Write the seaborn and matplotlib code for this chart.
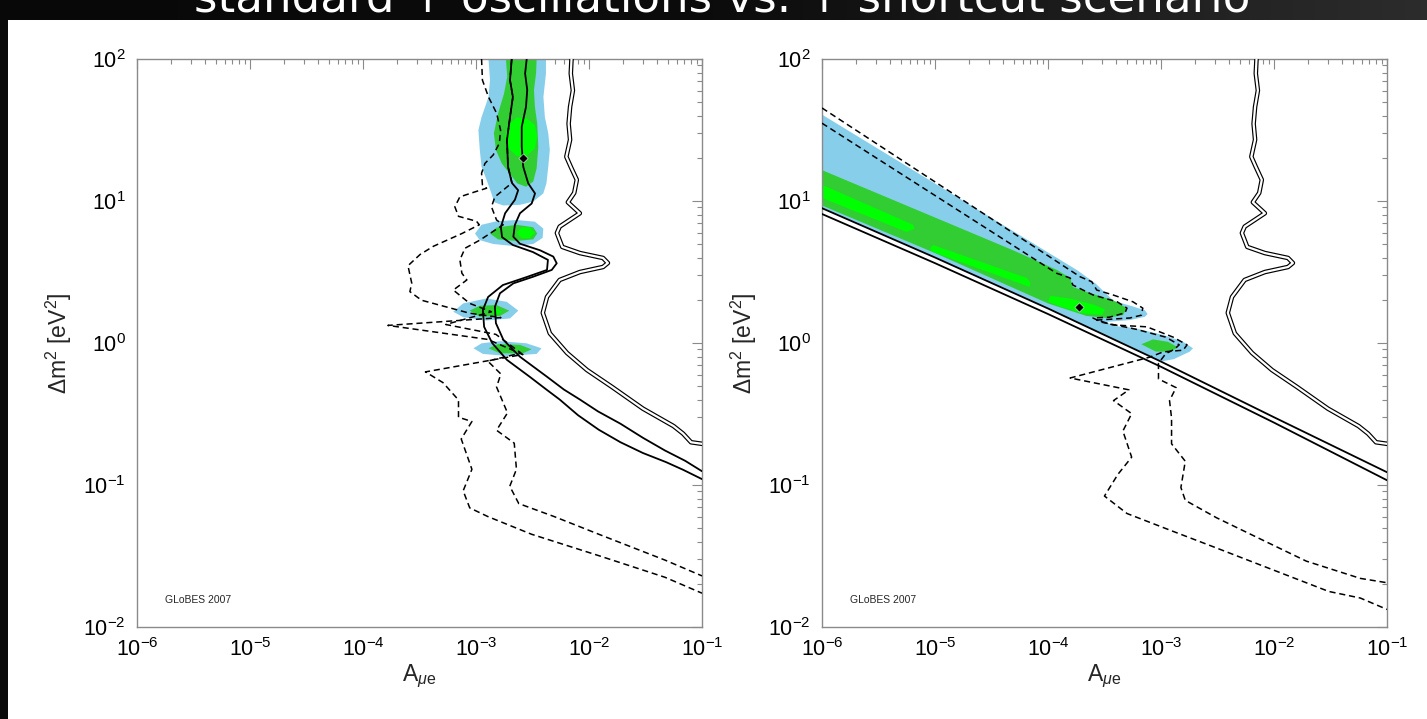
import numpy as np
import matplotlib
matplotlib.use("Agg")
import matplotlib.pyplot as plt
import matplotlib.ticker as mticker
from matplotlib.colors import LinearSegmentedColormap
from matplotlib.patches import Rectangle
import seaborn as sns

# ---------------- data (A_mue, dm^2 in eV^2) ----------------
# outermost double contour, identical in both panels
outer_A = [7.0e-3, 6.9e-3, 7.2e-3, 6.8e-3, 6.6e-3, 6.8e-3, 6.3e-3, 6.9e-3, 7.8e-3, 7.4e-3,
           6.5e-3, 8.3e-3, 5.5e-3, 5.2e-3, 5.8e-3, 8.3e-3, 1.33e-2, 1.47e-2, 1.33e-2, 8.3e-3,
           5.5e-3, 4.25e-3, 3.9e-3, 4.5e-3, 6.4e-3, 9.6e-3, 1.6e-2, 3.0e-2, 5.6e-2, 6.8e-2, 8.0e-2, 0.1]
outer_dm = [100, 79, 60, 46, 35, 27, 20.5, 17.4, 14.1, 11.4,
            9.8, 8.2, 6.6, 5.95, 4.75, 4.3, 3.97, 3.66, 3.43, 3.16,
            2.78, 2.11, 1.63, 1.17, 0.85, 0.645, 0.49, 0.345, 0.26, 0.23, 0.20, 0.195]

# left panel: middle solid pair
left_s1_A = [2.07e-3, 2.0e-3, 2.12e-3, 2.0e-3, 1.88e-3, 1.92e-3, 2.08e-3, 2.36e-3, 2.21e-3, 1.81e-3,
             1.66e-3, 1.70e-3, 2.12e-3, 3.19e-3, 4.33e-3, 4.25e-3, 2.83e-3, 1.73e-3, 1.28e-3, 1.15e-3,
             1.18e-3, 1.39e-3, 1.88e-3, 3.0e-3, 4.2e-3, 5.5e-3, 8.0e-3, 1.22e-2, 1.9e-2, 3.0e-2,
             4.8e-2, 6.8e-2, 0.1]
left_s1_dm = [100, 71, 54, 39, 26.9, 17.4, 13.4, 11.9, 10.2, 8.2,
              6.56, 5.57, 4.9, 4.37, 3.85, 3.27, 2.92, 2.56, 2.11, 1.71,
              1.30, 1.0, 0.76, 0.577, 0.47, 0.40, 0.31, 0.245, 0.20, 0.168,
              0.145, 0.128, 0.110]
left_s2_A = [2.81e-3, 2.72e-3, 2.84e-3, 2.77e-3, 2.54e-3, 2.54e-3, 2.62e-3, 2.90e-3, 3.33e-3, 3.11e-3,
             2.45e-3, 2.21e-3, 2.14e-3, 2.45e-3, 3.68e-3, 4.83e-3, 5.18e-3, 4.68e-3, 3.21e-3, 2.14e-3,
             1.63e-3, 1.47e-3, 1.50e-3, 1.75e-3, 2.45e-3, 4.23e-3, 6.0e-3, 8.3e-3, 1.2e-2, 1.9e-2,
             3.0e-2, 4.7e-2, 7.1e-2, 0.1]
left_s2_dm = [100, 79, 60.5, 46.1, 33.3, 24.1, 17.4, 13.3, 11.3, 9.6,
              8.2, 6.8, 5.6, 5.0, 4.5, 4.06, 3.64, 3.27, 2.93, 2.63,
              2.24, 1.80, 1.38, 1.05, 0.80, 0.58, 0.47, 0.40, 0.33, 0.27,
              0.215, 0.175, 0.148, 0.125]

# left panel: dashed contours
left_d1_A = [1.12e-3, 1.14e-3, 1.29e-3, 1.52e-3, 1.65e-3, 1.61e-3, 1.42e-3, 1.2e-3, 1.12e-3, 1.14e-3,
             1.24e-3, 9.8e-4, 7.2e-4, 6.5e-4, 7.0e-4, 1.01e-3, 1.07e-3, 7.5e-4, 4.2e-4, 3.2e-4,
             2.5e-4, 2.7e-4, 2.6e-4, 3.3e-4, 8.8e-4, 1.66e-3, 1.66e-4, 1.27e-3, 2.6e-3, 3.57e-4,
             5.1e-4, 7.0e-4, 7.0e-4, 9.2e-4, 7.4e-4, 9.2e-4, 7.7e-4, 8.8e-4, 1.27e-3, 3.1e-3,
             1.22e-2, 4.7e-2, 0.1]
left_d1_dm = [100, 71, 54, 41.6, 31.6, 25.5, 21.1, 18.4, 15.7, 13.0,
              12.3, 11.6, 10.7, 9.1, 7.8, 7.2, 6.8, 5.9, 4.8, 4.2,
              3.5, 2.64, 2.3, 2.0, 1.62, 1.51, 1.33, 1.06, 0.83, 0.626,
              0.526, 0.397, 0.30, 0.28, 0.211, 0.129, 0.091, 0.069, 0.060, 0.045,
              0.0318, 0.0224, 0.0173]
left_d2_A = [2.07e-3, 2.0e-3, 2.12e-3, 2.0e-3, 1.88e-3, 1.92e-3, 2.08e-3,
             1.47e-3, 1.37e-3, 1.52e-3, 1.74e-3, 1.08e-3, 8.0e-4, 7.2e-4, 7.5e-4, 8.3e-4,
             6.3e-4, 8.8e-4, 1.37e-3, 5.4e-4, 1.5e-3, 2.5e-3, 1.27e-3, 1.66e-3, 1.52e-3, 1.9e-3,
             1.52e-3, 2.18e-3, 2.28e-3, 1.99e-3, 2.39e-3, 4.9e-3, 1.22e-2, 4.7e-2, 0.1]
left_d2_dm = [100, 71, 54, 39, 26.9, 17.4, 13.4,
              10.7, 9.1, 7.35, 6.8, 5.3, 4.65, 3.85, 3.1, 2.78,
              2.36, 1.9, 1.66, 1.35, 1.15, 0.85, 0.746, 0.605, 0.49, 0.322,
              0.243, 0.197, 0.129, 0.098, 0.074, 0.060, 0.045, 0.0296, 0.0229]

# left panel filled regions
left_blue_top_A = [1.29e-3, 1.33e-3, 1.29e-3, 1.12e-3, 1.05e-3, 1.08e-3, 1.12e-3, 1.24e-3, 1.37e-3, 1.45e-3,
                   1.74e-3, 2.45e-3, 3.21e-3, 3.94e-3, 4.2e-3, 4.36e-3, 4.5e-3, 4.36e-3, 4.07e-3, 3.95e-3,
                   4.16e-3, 4.16e-3]
left_blue_top_dm = [100, 71, 54, 39, 31.6, 22.9, 17.4, 14.1, 11.3, 9.8,
                    9.3, 9.4, 9.9, 11.3, 13.3, 17.4, 22.9, 30, 39, 54,
                    79, 100]
left_green_top_A = [1.84e-3, 1.89e-3, 1.77e-3, 1.57e-3, 1.44e-3, 1.50e-3, 1.69e-3, 1.97e-3, 2.32e-3, 2.77e-3,
                    3.21e-3, 3.44e-3, 3.56e-3, 3.48e-3, 3.32e-3, 3.26e-3, 3.4e-3, 3.44e-3]
left_green_top_dm = [100, 75, 57, 41.5, 30, 22.9, 18.4, 15.7, 13.3, 12.6,
                     13.7, 17, 24.1, 35.2, 46.2, 60.5, 79.3, 100]
left_lime_top_A = [1.8e-3, 1.93e-3, 2.29e-3, 2.8e-3, 3.32e-3, 3.48e-3, 3.32e-3, 2.8e-3, 2.29e-3, 1.93e-3]
left_lime_top_dm = [28.4, 34.3, 38.8, 38.2, 34.3, 28.4, 23.5, 20.7, 20.7, 23.5]

left_blue_b2_A = [9.8e-4, 1.12e-3, 1.52e-3, 2.29e-3, 3.32e-3, 3.94e-3, 3.89e-3, 3.21e-3, 2.14e-3, 1.42e-3, 1.08e-3]
left_blue_b2_dm = [5.9, 6.8, 7.2, 7.35, 7.15, 6.4, 5.5, 4.98, 4.82, 4.98, 5.3]
left_green_b2_A = [1.33e-3, 1.52e-3, 2.29e-3, 3.21e-3, 3.48e-3, 3.21e-3, 2.29e-3, 1.57e-3]
left_green_b2_dm = [5.9, 6.5, 6.8, 6.53, 5.9, 5.37, 5.23, 5.37]
left_lime_b2_A = [2.29e-3, 2.54e-3, 3.0e-3, 3.32e-3, 3.0e-3, 2.54e-3]
left_lime_b2_dm = [5.98, 6.53, 6.53, 5.98, 5.46, 5.46]

left_blue_b3_A = [6.3e-4, 7.7e-4, 1.24e-3, 1.87e-3, 2.37e-3, 2.0e-3, 1.24e-3, 7.7e-4]
left_blue_b3_dm = [1.66, 1.9, 2.06, 1.95, 1.69, 1.49, 1.44, 1.52]
left_green_b3_A = [8.8e-4, 1.08e-3, 1.52e-3, 1.97e-3, 1.63e-3, 1.08e-3]
left_green_b3_dm = [1.69, 1.83, 1.85, 1.69, 1.55, 1.53]
left_lime_b3_A = [1.37e-3, 1.52e-3, 1.69e-3, 1.52e-3]
left_lime_b3_dm = [1.66, 1.76, 1.66, 1.57]

left_blue_b4_A = [9.5e-4, 1.12e-3, 1.63e-3, 2.8e-3, 3.8e-3, 3.44e-3, 1.87e-3, 1.15e-3]
left_blue_b4_dm = [0.918, 0.995, 1.03, 0.995, 0.918, 0.838, 0.81, 0.838]
left_green_b4_A = [1.29e-3, 1.57e-3, 2.45e-3, 3.1e-3, 2.6e-3, 1.63e-3]
left_green_b4_dm = [0.918, 0.984, 0.97, 0.903, 0.846, 0.846]

left_best = ([2.6e-3], [20.0])

# right panel: straight solid pair
right_s1_A = [1e-6, 1e-5, 1e-4, 1e-3, 1e-2, 0.1]
right_s1_dm = [8.9, 4.0, 1.75, 0.74, 0.30, 0.123]
right_s2_A = [1e-6, 1e-5, 1e-4, 1e-3, 1e-2, 0.1]
right_s2_dm = [8.1, 3.65, 1.6, 0.68, 0.275, 0.108]

# right panel dashed contours
right_d1_A = [1e-6, 1.92e-4, 2.44e-4, 2.7e-4, 3.76e-4, 5.65e-4, 6.9e-4, 6.7e-4, 5.3e-4, 2.7e-4,
              3.76e-4, 7.5e-4, 1.28e-3, 1.7e-3, 1.57e-3, 1.04e-3, 8.0e-4, 1.57e-4, 5.2e-4, 3.8e-4,
              5.5e-4, 4.6e-4, 5.5e-4, 4.16e-4, 3.16e-4, 5.0e-4, 1.24e-3, 3.1e-3, 7.7e-3, 3.05e-2,
              5.8e-2, 0.1]
right_d1_dm = [45.2, 2.93, 2.7, 2.36, 2.18, 1.95, 1.76, 1.57, 1.5, 1.45,
               1.34, 1.30, 1.10, 0.97, 0.89, 0.865, 0.796, 0.567, 0.468, 0.393,
               0.318, 0.24, 0.157, 0.119, 0.0836, 0.063, 0.0476, 0.036, 0.0272, 0.0178,
               0.016, 0.0133]
right_d2_A = [1e-6, 1.19e-4, 1.57e-4, 1.66e-4, 2.5e-4, 4.1e-4, 5.0e-4, 4.8e-4, 3.5e-4, 2.5e-4,
              3.0e-4, 6.0e-4, 1.1e-3, 1.45e-3, 1.3e-3, 1.1e-3, 9.5e-4, 9.5e-4, 1.36e-3, 1.19e-3,
              1.24e-3, 1.24e-3, 1.64e-3, 1.5e-3, 1.64e-3, 3.1e-3, 7.7e-3, 1.93e-2, 5.8e-2, 0.1]
right_d2_dm = [35.3, 3.1, 2.87, 2.56, 2.18, 1.95, 1.76, 1.63, 1.52, 1.5,
               1.40, 1.25, 1.1, 0.97, 0.90, 0.84, 0.72, 0.558, 0.485, 0.393,
               0.296, 0.195, 0.147, 0.096, 0.078, 0.0588, 0.0414, 0.0291, 0.022, 0.0205]

# right panel filled regions (the blue one closes along the upper solid line)
right_blue_A = [1e-6, 1.83e-4, 2.64e-4, 3.8e-4, 5.5e-4, 7.2e-4, 7.6e-4, 7.2e-4, 5.3e-4, 3.3e-4,
                3.76e-4, 5.65e-4, 1.04e-3, 1.57e-3, 1.92e-3, 1.8e-3, 1.3e-3]
right_blue_dm = [40.6, 3.24, 2.62, 1.98, 1.82, 1.7, 1.6, 1.53, 1.45, 1.41,
                 1.32, 1.28, 1.14, 1.02, 0.918, 0.87, 0.77]
right_green_A = [1e-6, 4.9e-5, 1.2e-4, 1.57e-4, 1.66e-4, 2.35e-4, 3.76e-4, 5.0e-4, 4.6e-4, 3.3e-4,
                 2.2e-4, 1e-4, 1e-5, 1e-6]
right_green_dm = [16.5, 4.5, 3.27, 2.87, 2.48, 2.25, 2.0, 1.76, 1.57, 1.5,
                  1.55, 1.9, 4.3, 9.3]
right_green_b2_A = [6.7e-4, 8.5e-4, 1.15e-3, 1.42e-3, 1.2e-3, 9e-4]
right_green_b2_dm = [0.98, 1.06, 1.02, 0.93, 0.87, 0.87]
right_lime1_A = [1e-6, 3.5e-6, 6.4e-6, 6.6e-6, 5.6e-6, 3e-6, 1e-6]
right_lime1_dm = [13.0, 8.4, 6.8, 6.4, 6.05, 7.4, 10.5]
right_lime2_A = [9.6e-6, 6.5e-5, 7.0e-5, 6.9e-5, 9.6e-6, 9.0e-6]
right_lime2_dm = [4.9, 2.87, 2.65, 2.48, 4.37, 4.6]
right_lime3_A = [1.05e-4, 1.6e-4, 2.6e-4, 3.2e-4, 3.0e-4, 2.0e-4, 1.3e-4, 1.0e-4]
right_lime3_dm = [2.15, 2.05, 1.85, 1.72, 1.58, 1.62, 1.8, 1.95]

right_best = ([1.9e-4], [1.8])

x_ticks = [1e-6, 1e-5, 1e-4, 1e-3, 1e-2, 1e-1]
y_ticks = [1e-2, 1e-1, 1e0, 1e1, 1e2]

BLUE = "#87CEEB"
GREEN = "#32CD32"
LIME = "#00FF00"
DASH = (0, (4, 2.5))

# ---------------- style ----------------
sns.set_theme(style="white")
plt.rcParams["font.family"] = ["Liberation Sans", "DejaVu Sans"]
plt.rcParams["mathtext.fontset"] = "custom"
plt.rcParams["mathtext.rm"] = "Liberation Sans"
plt.rcParams["mathtext.it"] = "Liberation Sans:italic"
plt.rcParams["mathtext.bf"] = "Liberation Sans:bold"

fig = plt.figure(figsize=(14.27, 7.19), dpi=100)
fig.patch.set_facecolor("white")

# dark title band and left strip of the screenshot
band = fig.add_axes([0, 1 - 20 / 719, 1, 20 / 719])
grad = np.linspace(0, 1, 256)[None, :]
band.imshow(grad, aspect="auto",
            cmap=LinearSegmentedColormap.from_list("band", ["#080808", "#0c0c0c", "#2c2c2c"]))
band.set_axis_off()
fig.text(0.506, 1 - 11 / 719, "standard + oscillations vs. + shortcut scenario",
         color="white", fontsize=32.5, ha="center", va="baseline", family="DejaVu Sans")
fig.add_artist(Rectangle((0, 0), 8 / 1427, 1 - 20 / 719, transform=fig.transFigure,
                         color="#0a0a0a", lw=0))


def line(ax, A, dm, **kw):
    sns.lineplot(x=A, y=dm, sort=False, estimator=None, ax=ax, legend=False, **kw)


def double_line(ax, A, dm):
    line(ax, A, dm, color="black", lw=3.3, zorder=5)
    line(ax, A, dm, color="white", lw=1.6, zorder=6)


def style_axes(ax):
    ax.set_xscale("log")
    ax.set_yscale("log")
    ax.set_xlim(1e-6, 1e-1)
    ax.set_ylim(1e-2, 1e2)
    ax.set_xticks(x_ticks)
    ax.set_yticks(y_ticks)
    ax.xaxis.set_minor_locator(mticker.LogLocator(base=10, subs=np.arange(2, 10)))
    ax.yaxis.set_minor_locator(mticker.LogLocator(base=10, subs=np.arange(2, 10)))
    ax.xaxis.set_minor_formatter(mticker.NullFormatter())
    ax.yaxis.set_minor_formatter(mticker.NullFormatter())
    ax.tick_params(which="both", direction="in", top=True, right=True, color="#8a8a8a",
                   labelsize=15.5, labelcolor="black", width=0.8)
    ax.tick_params(which="major", length=7, pad=8)
    ax.tick_params(which="minor", length=3.5)
    for sp in ax.spines.values():
        sp.set_color("#8a8a8a")
        sp.set_linewidth(1.0)
    ax.set_xlabel(r"A$_{\mu\mathrm{e}}$", fontsize=16.5)
    ax.set_ylabel(r"$\Delta$m$^2$ [eV$^2$]", fontsize=16.5)
    ax.xaxis.set_label_coords(0.5, -0.062)
    ax.yaxis.set_label_coords(-0.112, 0.5)
    ax.set_facecolor("white")


axL = fig.add_axes([137 / 1427, 92 / 719, 565 / 1427, 568 / 719])
axR = fig.add_axes([822 / 1427, 92 / 719, 565 / 1427, 568 / 719])

# ---------- left panel ----------
for A, dm, c in [(left_blue_top_A, left_blue_top_dm, BLUE), (left_green_top_A, left_green_top_dm, GREEN),
                 (left_lime_top_A, left_lime_top_dm, LIME),
                 (left_blue_b2_A, left_blue_b2_dm, BLUE), (left_green_b2_A, left_green_b2_dm, GREEN),
                 (left_lime_b2_A, left_lime_b2_dm, LIME),
                 (left_blue_b3_A, left_blue_b3_dm, BLUE), (left_green_b3_A, left_green_b3_dm, GREEN),
                 (left_lime_b3_A, left_lime_b3_dm, LIME),
                 (left_blue_b4_A, left_blue_b4_dm, BLUE), (left_green_b4_A, left_green_b4_dm, GREEN)]:
    axL.fill(A, dm, color=c, lw=0, zorder=1)

line(axL, left_d1_A, left_d1_dm, color="black", lw=1.1, linestyle=DASH, zorder=4)
line(axL, left_d2_A, left_d2_dm, color="black", lw=1.1, linestyle=DASH, zorder=4)
line(axL, left_s1_A, left_s1_dm, color="black", lw=1.3, zorder=5)
line(axL, left_s2_A, left_s2_dm, color="black", lw=1.3, zorder=5)
double_line(axL, outer_A, outer_dm)
sns.scatterplot(x=left_best[0], y=left_best[1], marker="D", s=22, color="black", ax=axL, zorder=7,
                legend=False)

# ---------- right panel ----------
below = [(a, d) for a, d in zip(right_s1_A, right_s1_dm) if a <= 1e-3][::-1]
blue_A = right_blue_A + [a for a, _ in below]
blue_dm = right_blue_dm + [d for _, d in below]
for A, dm, c in [(blue_A, blue_dm, BLUE), (right_green_A, right_green_dm, GREEN),
                 (right_green_b2_A, right_green_b2_dm, GREEN),
                 (right_lime1_A, right_lime1_dm, LIME), (right_lime2_A, right_lime2_dm, LIME),
                 (right_lime3_A, right_lime3_dm, LIME)]:
    axR.fill(A, dm, color=c, lw=0, zorder=1)

line(axR, right_d1_A, right_d1_dm, color="black", lw=1.1, linestyle=DASH, zorder=4)
line(axR, right_d2_A, right_d2_dm, color="black", lw=1.1, linestyle=DASH, zorder=4)
line(axR, right_s1_A, right_s1_dm, color="black", lw=1.3, zorder=5)
line(axR, right_s2_A, right_s2_dm, color="black", lw=1.3, zorder=5)
double_line(axR, outer_A, outer_dm)
sns.scatterplot(x=right_best[0], y=right_best[1], marker="D", s=22, color="black", ax=axR, zorder=7,
                legend=False)

for ax in (axL, axR):
    style_axes(ax)
    ax.text(0.05, 0.048, "GLoBES 2007", transform=ax.transAxes, fontsize=7.5,
            ha="left", va="center")

fig.savefig("out.png", dpi=100, facecolor="white")
